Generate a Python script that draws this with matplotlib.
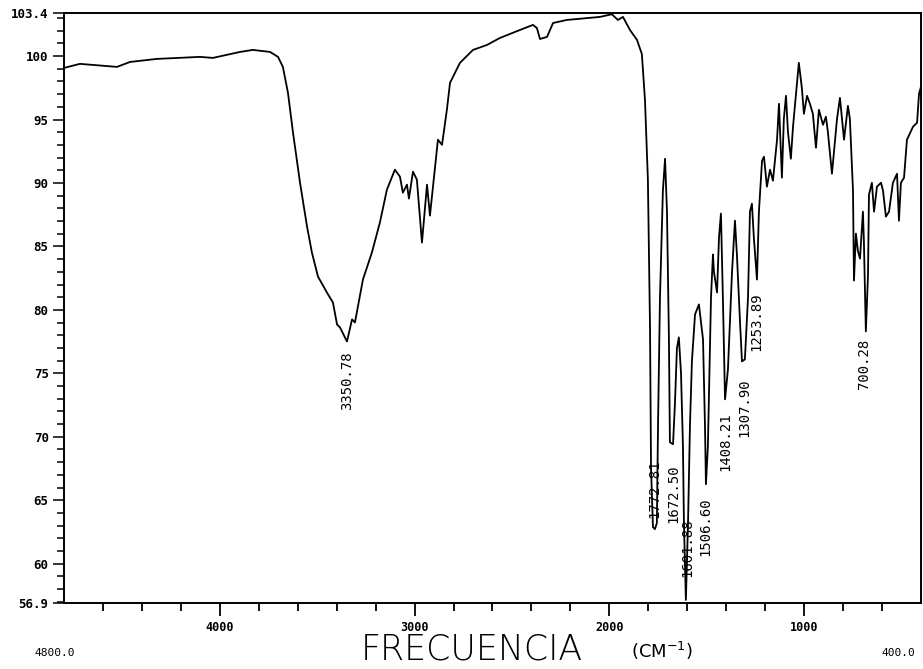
import matplotlib.pyplot as plt
from matplotlib.ticker import MultipleLocator, FixedLocator

# IR spectrum (wavenumber in cm-1, %T)
wavenumber = [4800, 4718, 4528, 4461, 4323, 4102, 4035, 3896, 3830, 3742,
              3701, 3676, 3650, 3624, 3588, 3552, 3527, 3496, 3450, 3419,
              3398, 3383, 3347, 3321, 3306, 3265, 3219, 3178, 3142, 3101,
              3075, 3060, 3039, 3029, 3008, 2988, 2962, 2936, 2921, 2880,
              2859, 2834, 2818, 2767, 2700, 2628, 2562, 2459, 2392, 2372,
              2356, 2320, 2289, 2218, 2048, 1987, 1956, 1930, 1894, 1858,
              1833, 1817, 1802, 1791, 1786, 1776, 1766, 1756, 1750, 1740,
              1725, 1714, 1704, 1694, 1689, 1673, 1663, 1653, 1643, 1632,
              1622, 1617, 1607, 1596, 1586, 1576, 1560, 1540, 1519, 1509,
              1504, 1494, 1478, 1468, 1463, 1447, 1437, 1427, 1417, 1406,
              1391, 1370, 1355, 1345, 1329, 1319, 1304, 1288, 1278, 1268,
              1258, 1242, 1232, 1216, 1206, 1191, 1175, 1160, 1139, 1129,
              1114, 1104, 1093, 1083, 1068, 1057, 1037, 1027, 1011, 1001,
              985, 970, 955, 939, 924, 903, 888, 878, 857, 831,
              816, 795, 775, 765, 749, 744, 734, 724, 713, 698,
              693, 683, 672, 667, 652, 641, 626, 605, 595, 580,
              564, 544, 523, 513, 503, 487, 472, 441, 420, 410,
              400]
transmittance = [99.07, 99.39, 99.15, 99.54, 99.78, 99.94, 99.86, 100.33, 100.49, 100.33,
                 99.94, 99.15, 97.11, 93.96, 90.02, 86.56, 84.52, 82.63, 81.37, 80.58,
                 78.85, 78.62, 77.51, 79.25, 79.01, 82.39, 84.52, 86.88, 89.47, 91.05,
                 90.50, 89.24, 89.87, 88.77, 90.89, 90.26, 85.30, 89.87, 87.43, 93.41,
                 93.01, 95.77, 97.89, 99.47, 100.49, 100.88, 101.43, 102.06, 102.46, 102.22,
                 101.35, 101.51, 102.61, 102.85, 103.09, 103.30, 102.85, 103.09, 102.06, 101.28,
                 100.17, 96.55, 90.26, 78.46, 67.60, 62.88, 62.72, 63.19, 70.91, 80.98,
                 89.40, 91.91, 87.74, 77.67, 69.57, 69.41, 72.64, 76.96, 77.83, 75.00,
                 69.25, 63.19, 57.14, 63.19, 70.91, 75.94, 79.64, 80.43, 77.67, 70.91,
                 66.26, 69.25, 80.98, 84.36, 83.02, 81.37, 85.70, 87.59, 80.98, 72.95,
                 75.31, 83.02, 87.03, 84.36, 79.01, 75.94, 76.10, 80.98, 87.74, 88.37,
                 85.70, 82.39, 87.74, 91.76, 92.07, 89.71, 91.05, 90.18, 93.41, 96.24,
                 90.42, 95.06, 96.87, 94.04, 91.91, 94.43, 97.81, 99.47, 97.42, 95.45,
                 96.87, 96.24, 95.45, 92.78, 95.77, 94.59, 95.22, 94.04, 90.73, 95.06,
                 96.71, 93.41, 96.08, 95.06, 89.40, 82.31, 86.01, 84.67, 84.04, 87.74,
                 85.38, 78.30, 82.71, 89.08, 90.02, 87.74, 89.71, 90.02, 89.40, 87.35,
                 87.74, 90.02, 90.73, 87.03, 90.02, 90.42, 93.41, 94.43, 94.75, 97.03,
                 97.58]

peak_labels = ['3350.78', '1772.81', '1672.50', '1601.88', '1506.60',
               '1408.21', '1307.90', '1253.89', '700.28']
peak_pos = [3347, 1770, 1670, 1601, 1505, 1402, 1305, 1245, 690]
label_top = [76.7, 68.2, 67.8, 63.6, 65.2, 71.9, 74.6, 81.4, 77.7]

fig = plt.figure(figsize=(9.23, 6.69), dpi=100)
ax = fig.add_axes([0.0693, 0.0987, 0.9285, 0.8819])

ax.plot(wavenumber, transmittance, color='black', linewidth=1.3)

ax.set_xlim(4800, 400)
ax.set_ylim(56.9, 103.4)

ax.xaxis.set_major_locator(FixedLocator([4000, 3000, 2000, 1000]))
ax.xaxis.set_minor_locator(FixedLocator([4600, 4400, 4200, 3800, 3600, 3400, 3200,
                                         2800, 2600, 2400, 2200, 1800, 1600, 1400,
                                         1200, 800, 600]))
ax.set_xticklabels(['4000', '3000', '2000', '1000'],
                   family='DejaVu Sans Mono', fontweight='bold', fontsize=8.5)

yt = [56.9, 60, 65, 70, 75, 80, 85, 90, 95, 100, 103.4]
ax.set_yticks(yt)
ax.set_yticklabels(['56.9', '60', '65', '70', '75', '80', '85', '90', '95', '100', '103.4'],
                   family='DejaVu Sans Mono', fontweight='bold', fontsize=9)
ax.yaxis.set_minor_locator(MultipleLocator(1))

ax.tick_params(axis='x', which='major', direction='out', length=9, width=1.3, pad=4)
ax.tick_params(axis='x', which='minor', direction='out', length=6, width=1.3)
ax.tick_params(axis='y', which='major', direction='out', length=8, width=1.1, pad=3)
ax.tick_params(axis='y', which='minor', direction='out', length=5, width=1.1)

for s in ax.spines.values():
    s.set_linewidth(1.4)

for lab, x, t in zip(peak_labels, peak_pos, label_top):
    ax.text(x, t, lab, rotation=90, ha='center', va='top',
            family='DejaVu Sans Mono', fontsize=10)

fig.text(55 / 923, 1 - 653 / 669, '4800.0', ha='center', va='center',
         family='DejaVu Sans Mono', fontsize=8)
fig.text(898 / 923, 1 - 653 / 669, '400.0', ha='center', va='center',
         family='DejaVu Sans Mono', fontsize=8)
fig.text(472 / 923, 1 - 650 / 669, 'FRECUENCIA', ha='center', va='center',
         family='DejaVu Sans', fontweight='light', fontsize=25)
fig.text(662 / 923, 1 - 651 / 669, r'(CM$^{-1}$)', ha='center', va='center',
         family='DejaVu Sans', fontsize=13)

fig.savefig('out.png', dpi=100)
